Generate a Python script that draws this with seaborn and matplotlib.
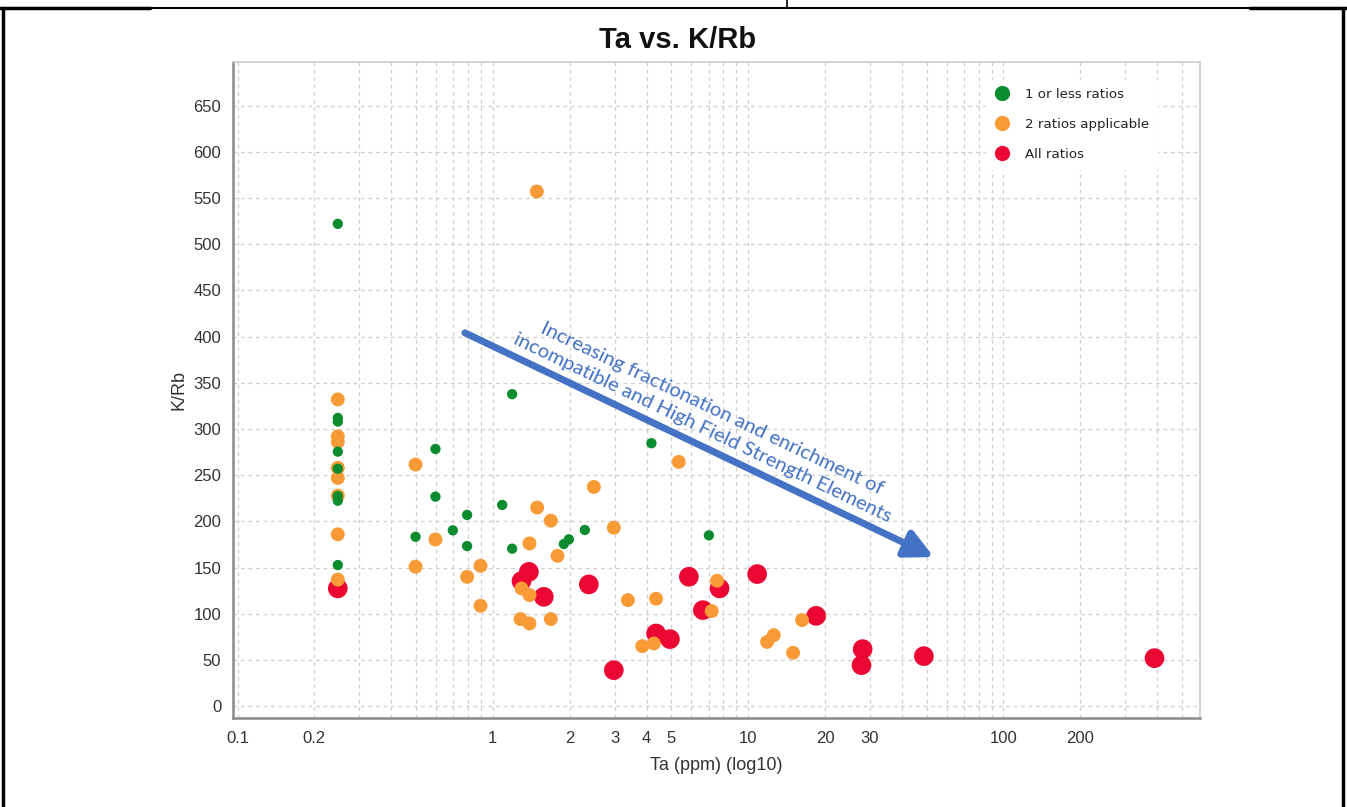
import matplotlib
matplotlib.use("Agg")
import matplotlib.pyplot as plt
from matplotlib.lines import Line2D
from matplotlib.ticker import LogLocator, FixedLocator, NullFormatter
import pandas as pd
import seaborn as sns

# data (Ta ppm, K/Rb)
green_x = [0.247, 0.247, 0.247, 0.247, 0.247, 0.247, 0.247, 0.247,
           0.596, 0.596, 0.498, 0.697, 0.793, 0.793, 1.088, 1.19, 1.19,
           1.897, 1.985, 2.293, 4.18, 7.02]
green_y = [522, 312, 308, 275.5, 257, 227.5, 222.4, 152.8,
           278.4, 226.8, 183.4, 190.3, 207, 173.3, 217.8, 170.5, 337.7,
           175.5, 180.6, 190.7, 284.6, 184.9]

orange_x = [0.247, 0.247, 0.247, 0.247, 0.247, 0.247, 0.247, 0.247,
            0.498, 0.498, 0.596, 0.895, 0.793, 0.895, 1.491, 1.687, 1.392,
            1.792, 2.487, 2.978, 5.35, 1.295, 1.392, 1.284, 1.392, 1.687,
            3.38, 4.36, 3.85, 4.27, 7.56, 7.2, 11.87, 12.6, 15.0, 16.27, 1.487]
orange_y = [332, 292, 286, 258, 247, 228, 186, 137,
            261.5, 151, 180.4, 152, 140, 108.7, 215, 200.8, 176.2,
            162.8, 237.3, 193.2, 264.4, 127.5, 120.3, 94.3, 89.6, 94.3,
            114.8, 116.3, 65, 67.9, 135.8, 103, 69.6, 76.9, 57.8, 93.2, 557]

red_x = [0.247, 1.295, 1.384, 1.584, 2.377, 2.978, 4.36, 4.94, 5.86, 6.65,
         7.73, 10.85, 18.47, 28.1, 27.8, 48.8, 390.8]
red_y = [127.5, 135.4, 145.4, 118.4, 131.8, 39, 78.7, 72.6, 140.1, 104,
         127.5, 143, 97.8, 61.8, 44.4, 54.2, 52]

labels = ["1 or less ratios", "2 ratios applicable", "All ratios"]
colors = ["#0b8c2f", "#f89a35", "#ec0634"]

df = pd.concat([
    pd.DataFrame({"Ta": red_x, "KRb": red_y, "cat": labels[2]}),
    pd.DataFrame({"Ta": orange_x, "KRb": orange_y, "cat": labels[1]}),
    pd.DataFrame({"Ta": green_x, "KRb": green_y, "cat": labels[0]}),
], ignore_index=True)

sns.set_style("white")
plt.rcParams["font.family"] = ["Liberation Sans Narrow", "Liberation Sans", "DejaVu Sans"]

fig = plt.figure(figsize=(13.47, 8.07), dpi=100)
ax = fig.add_axes([0.173, 0.110, 0.718, 0.813])

# red under orange under green, like the original
sizes = {labels[2]: 200, labels[1]: 100, labels[0]: 55}
for lab, col in zip(labels[::-1], colors[::-1]):
    sns.scatterplot(data=df[df.cat == lab], x="Ta", y="KRb", color=col,
                    s=sizes[lab], edgecolor="none", ax=ax, legend=False, zorder=3)

ax.set_xscale("log")
ax.set_xlim(0.096, 590)
ax.set_ylim(-13, 697)

ax.set_yticks(range(0, 651, 50))
ax.xaxis.set_major_locator(FixedLocator([0.1, 0.2, 1, 2, 3, 4, 5, 10, 20, 30, 100, 200]))
ax.set_xticklabels(["0.1", "0.2", "1", "2", "3", "4", "5", "10", "20", "30", "100", "200"])
ax.xaxis.set_minor_locator(LogLocator(base=10, subs=range(2, 10), numticks=20))
ax.xaxis.set_minor_formatter(NullFormatter())

ax.grid(True, which="both", axis="x", color="#cfcfcf", ls=(0, (3, 3)), lw=0.9, zorder=0)
ax.grid(True, which="major", axis="y", color="#cfcfcf", ls=(0, (3, 3)), lw=0.9, zorder=0)

ax.tick_params(axis="both", which="both", direction="out", color="#777777",
               labelcolor="#333333", labelsize=12)
ax.tick_params(axis="both", which="major", length=5, width=1)
ax.tick_params(axis="x", which="minor", length=5, width=1)
ax.tick_params(axis="x", which="major", pad=4)

for side in ["left", "bottom"]:
    ax.spines[side].set_color("#8a8a8a")
    ax.spines[side].set_linewidth(1.8)
for side in ["top", "right"]:
    ax.spines[side].set_color("#cccccc")
    ax.spines[side].set_linewidth(1.2)

ax.set_xlabel("Ta (ppm) (log10)", fontsize=13, color="#333333", labelpad=8)
ax.set_ylabel("K/Rb", fontsize=13, color="#333333", labelpad=4)
fig.suptitle("Ta vs. K/Rb", x=0.503, y=0.968, fontsize=21, fontweight="bold", color="#111111")

# trend arrow + note
ax.annotate("", xy=(53.4, 161.4), xytext=(0.777, 404.1),
            arrowprops=dict(arrowstyle="-|>,head_length=0.6,head_width=0.3",
                            color="#4472c4", lw=5, mutation_scale=28,
                            shrinkA=0, shrinkB=0), zorder=4)
ax.text(6.9, 312, "Increasing fractionation and enrichment of\n"
        "incompatible and High Field Strength Elements",
        rotation=-25.5, rotation_mode="anchor", ha="center", va="center",
        multialignment="center", linespacing=1.3, fontsize=14.6,
        color="#4472c4", family=["Lato", "DejaVu Sans"], zorder=4)

handles = [Line2D([], [], marker="o", ls="none", markersize=11,
                  markerfacecolor=c, markeredgecolor="none") for c in colors]
leg = ax.legend(handles, labels, loc="upper left", bbox_to_anchor=(0.772, 0.983),
                frameon=True, fancybox=False, framealpha=1, edgecolor="white",
                prop={"family": ["DejaVu Sans"], "size": 9.6}, labelspacing=1.28,
                handletextpad=1.1, handlelength=1.2, borderpad=0.6)
for t in leg.get_texts():
    t.set_color("#222222")

# page/table border lines around the chart
fig.add_artist(Line2D([0, 1], [1 - 8 / 807, 1 - 8 / 807], color="black", lw=1.5))
fig.add_artist(Line2D([0, 150 / 1347], [1 - 8 / 807, 1 - 8 / 807], color="black", lw=2.5))
fig.add_artist(Line2D([1250 / 1347, 1], [1 - 8 / 807, 1 - 8 / 807], color="black", lw=2.5))
fig.add_artist(Line2D([787 / 1347, 787 / 1347], [1 - 8 / 807, 1], color="black", lw=1.2))
fig.add_artist(Line2D([3 / 1347, 3 / 1347], [0, 1 - 8 / 807], color="black", lw=2.5))
fig.add_artist(Line2D([1343 / 1347, 1343 / 1347], [0, 1 - 8 / 807], color="black", lw=2.5))

fig.savefig("out.png", dpi=100)
